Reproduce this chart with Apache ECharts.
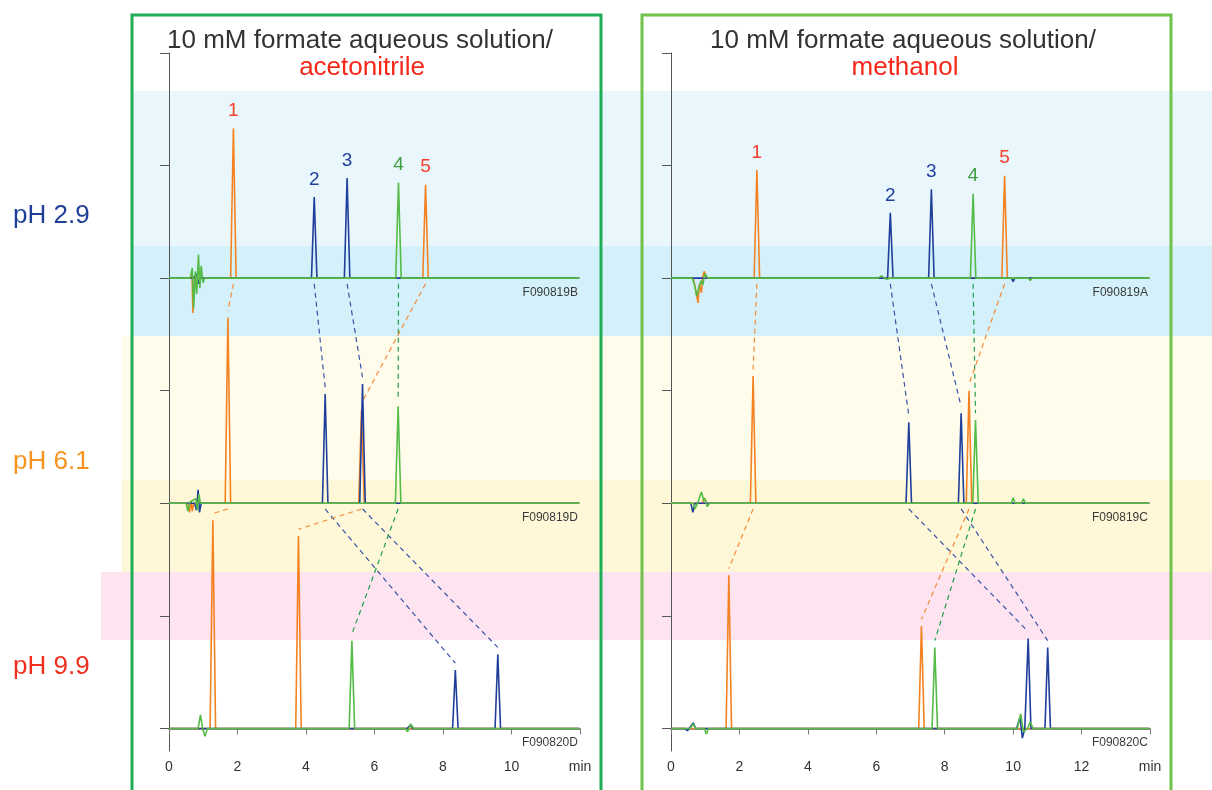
<!DOCTYPE html>
<html>
<head>
<meta charset="utf-8">
<title>Retention vs pH</title>
<script src="https://cdn.jsdelivr.net/npm/echarts@6/dist/echarts.min.js"></script>
<style>
  html, body { margin: 0; padding: 0; background: #fff; }
  #chart { width: 1212px; height: 790px; }
</style>
</head>
<body>
<div id="chart"></div>
<script>
// ---- data ----
const phLabels = ['pH 2.9', 'pH 6.1', 'pH 9.9'];
const baselines = [4, 2, 0];                 // vertical offset of each chromatogram
const compounds = ['1', '2', '3', '4', '5'];
const compoundTrace = ['orange', 'blue', 'blue', 'green', 'orange'];

const acnTitle = 'acetonitrile';
const acnMax = 12;
const acnCodes = ['F090819B', 'F090819D', 'F090820D'];
// retention time (min), rows = pH 2.9 / 6.1 / 9.9, cols = compound 1..5
const acnTimes = [
  [1.88, 4.24, 5.20, 6.70, 7.49],
  [1.72, 4.56, 5.65, 6.69, 5.62],
  [1.28, 8.36, 9.60, 5.34, 3.78]
];
const acnHeights = [
  [1.33, 0.72, 0.89, 0.85, 0.83],
  [1.65, 0.97, 1.06, 0.86, 0.83],
  [1.85, 0.52, 0.66, 0.78, 1.71]
];
const acnNoise = [
  { orange: [[0.64, 0], [0.67, 0.06], [0.70, -0.31], [0.74, 0.02], [0.78, 0]],
    blue: [[0.72, 0], [0.80, 0.04], [0.85, -0.05], [0.90, 0]],
    green: [[0.62, 0], [0.68, 0.09], [0.72, -0.27], [0.77, 0.06], [0.81, -0.14], [0.86, 0.21], [0.90, -0.09], [0.94, 0.11], [0.99, -0.04], [1.04, 0]] },
  { orange: [[0.55, 0], [0.60, -0.08], [0.64, 0.02], [0.68, -0.07], [0.72, 0]],
    blue: [[0.75, 0], [0.80, -0.06], [0.85, 0.12], [0.89, -0.08], [0.94, 0]],
    green: [[0.50, 0], [0.55, -0.07], [0.60, 0.01], [0.78, 0.04], [0.83, -0.06], [0.87, 0.08], [0.92, 0]] },
  { orange: [],
    blue: [[6.95, 0], [7.05, 0.03], [7.12, 0]],
    green: [[0.85, 0], [0.92, 0.12], [0.98, 0], [1.05, -0.07], [1.12, 0], [6.90, 0], [6.97, -0.03], [7.05, 0.04], [7.15, 0]] }
];

const meohTitle = 'methanol';
const meohMax = 14;
const meohCodes = ['F090819A', 'F090819C', 'F090820C'];
const meohTimes = [
  [2.51, 6.41, 7.61, 8.83, 9.75],
  [2.40, 6.95, 8.48, 8.90, 8.71],
  [1.69, 10.44, 11.01, 7.71, 7.32]
];
const meohHeights = [
  [0.96, 0.58, 0.79, 0.75, 0.91],
  [1.13, 0.72, 0.80, 0.74, 1.00],
  [1.36, 0.80, 0.72, 0.72, 0.91]
];
const meohNoise = [
  { orange: [[0.65, 0], [0.72, -0.10], [0.79, -0.22], [0.83, -0.05], [0.89, -0.13], [0.93, 0.02], [0.97, 0.06], [1.05, 0]],
    blue: [[9.95, 0], [10.0, -0.03], [10.05, 0]],
    green: [[0.62, 0], [0.68, -0.05], [0.75, -0.16], [0.82, -0.08], [0.88, -0.02], [0.93, -0.06], [0.99, 0.04], [1.08, 0], [6.05, 0], [6.15, 0.02], [6.3, -0.01], [6.4, 0], [10.45, 0], [10.5, -0.02], [10.55, 0]] },
  { orange: [[0.92, 0], [0.97, 0.05], [1.03, 0]],
    blue: [[0.58, 0], [0.64, -0.08], [0.70, 0]],
    green: [[0.66, 0], [0.70, -0.05], [0.80, 0.02], [0.89, 0.10], [0.96, 0.02], [1.0, 0.04], [1.06, -0.03], [1.12, 0], [9.95, 0], [10.0, 0.05], [10.06, 0], [10.25, 0], [10.3, 0.04], [10.36, 0]] },
  { orange: [],
    blue: [[0.40, 0], [0.48, -0.02], [0.65, 0.05], [0.72, 0], [10.10, 0], [10.20, 0.10], [10.27, -0.085], [10.34, 0]],
    green: [[0.55, 0], [0.65, 0.04], [0.72, 0], [0.98, 0], [1.03, -0.05], [1.10, 0], [10.12, 0], [10.22, 0.13], [10.30, -0.03], [10.42, 0], [10.50, 0.06], [10.58, 0]] }
];

// ---- styling ----
const traceColor = { orange: '#f58220', blue: '#1f3f9a', green: '#55bb47' };
const dashColor = { orange: '#f58a35', blue: '#3552a8', green: '#1f9e4c' };
const labelColor = ['#f4402a', '#1f3f9a', '#1f3f9a', '#3d9a3d', '#f4402a'];
const phColor = ['#1f3f99', '#f7931e', '#f0301e'];
const peakHalfWidth = 0.08;

const panels = [
  { title: acnTitle, max: acnMax, codes: acnCodes, times: acnTimes, heights: acnHeights, noise: acnNoise,
    grid: { left: 169, top: 53, width: 411, height: 698 }, box: [132, 15, 469], boxColor: '#1fae55', cx: 360 },
  { title: meohTitle, max: meohMax, codes: meohCodes, times: meohTimes, heights: meohHeights, noise: meohNoise,
    grid: { left: 671, top: 53, width: 479, height: 698 }, box: [642, 15, 529], boxColor: '#70c24a', cx: 903 }
];

function traceData(p, row, color) {
  const pts = [[0, 0], [p.max - 0.02, 0]];
  p.noise[row][color].forEach(pt => pts.push(pt));
  compounds.forEach((c, i) => {
    if (compoundTrace[i] !== color) return;
    const t = p.times[row][i], h = p.heights[row][i];
    pts.push([t - peakHalfWidth, 0], [t, h], [t + peakHalfWidth, 0]);
  });
  pts.sort((a, b) => a[0] - b[0]);
  return pts.map(pt => [pt[0], pt[1] + baselines[row]]);
}

const grids = [], xAxes = [], yAxes = [], series = [], graphics = [];

// background bands
[
  [131, 91, 1081, 155, '#e9f7fd'],
  [131, 246, 1081, 90, '#d4f1fb'],
  [122, 336, 1090, 144, '#fffcec'],
  [122, 480, 1090, 92, '#fff8d8'],
  [101, 572, 1111, 68, '#fde4f0']
].forEach(b => graphics.push({
  type: 'rect', z: -10, silent: true,
  shape: { x: b[0], y: b[1], width: b[2], height: b[3] },
  style: { fill: b[4] }
}));

panels.forEach((p, pi) => {
  grids.push(p.grid);
  xAxes.push({
    gridIndex: pi, type: 'value', min: 0, max: p.max, interval: 2,
    axisLine: { lineStyle: { color: '#777', width: 1.5 } },
    axisTick: { length: 6, lineStyle: { color: '#777' } },
    axisLabel: { color: '#333', fontSize: 14, margin: 9, fontFamily: 'Liberation Sans',
      formatter: v => v === p.max ? 'min' : String(v) },
    splitLine: { show: false }
  });
  yAxes.push({
    gridIndex: pi, type: 'value', min: -0.2, max: 6,
    axisLine: { show: true, lineStyle: { color: '#555', width: 1 } },
    axisTick: { show: true, length: 9, customValues: [0, 1, 2, 3, 4, 5, 6], lineStyle: { color: '#555' } },
    axisLabel: { show: false },
    splitLine: { show: false }
  });

  // dashed connectors between the same compound in neighbouring pH runs
  compounds.forEach((c, i) => {
    for (let r = 0; r < 2; r++) {
      series.push({
        type: 'line', xAxisIndex: pi, yAxisIndex: pi, silent: true, symbol: 'none', z: 2,
        lineStyle: { color: dashColor[compoundTrace[i]], width: 1.2, type: [5, 4] },
        data: [
          [p.times[r][i], baselines[r] - 0.05],
          [p.times[r + 1][i], baselines[r + 1] + p.heights[r + 1][i] + 0.06]
        ]
      });
    }
  });

  // chromatogram traces
  for (let r = 0; r < 3; r++) {
    ['orange', 'blue', 'green'].forEach(color => {
      series.push({
        type: 'line', xAxisIndex: pi, yAxisIndex: pi, silent: true, symbol: 'none', z: 3,
        lineStyle: { color: traceColor[color], width: 1.6 },
        data: traceData(p, r, color)
      });
    });
  }

  // peak numbers above the pH 2.9 run
  series.push({
    type: 'scatter', xAxisIndex: pi, yAxisIndex: pi, silent: true, symbolSize: 0, z: 5,
    itemStyle: { opacity: 1 },
    data: compounds.map((c, i) => ({
      value: [p.times[0][i], baselines[0] + p.heights[0][i]],
      name: c,
      label: { color: labelColor[i] }
    })),
    label: { show: true, position: 'top', distance: 8, fontSize: 19, fontFamily: 'Liberation Sans',
      formatter: d => d.name }
  });

  // run codes
  series.push({
    type: 'scatter', xAxisIndex: pi, yAxisIndex: pi, silent: true, symbolSize: 0, z: 5,
    itemStyle: { opacity: 1 },
    data: p.codes.map((code, r) => ({ value: [p.max - 0.06, baselines[r] - 0.13], name: code })),
    label: { show: true, position: 'left', distance: 0, fontSize: 12, color: '#3a3a3a',
      fontFamily: 'Liberation Sans', formatter: d => d.name }
  });

  // panel frame and title
  graphics.push({
    type: 'rect', z: 20, silent: true,
    shape: { x: p.box[0], y: p.box[1], width: p.box[2], height: 800 },
    style: { fill: 'none', stroke: p.boxColor, lineWidth: 3 }
  });
  graphics.push({
    type: 'text', z: 20, silent: true, x: p.cx, y: 41,
    style: { text: '10 mM formate aqueous solution/', fill: '#333', fontSize: 26,
      fontFamily: 'Liberation Sans', align: 'center', verticalAlign: 'middle' }
  });
  graphics.push({
    type: 'text', z: 20, silent: true, x: p.cx + 2, y: 68,
    style: { text: p.title, fill: '#f5281a', fontSize: 26,
      fontFamily: 'Liberation Sans', align: 'center', verticalAlign: 'middle' }
  });
});

// pH labels on the left
[216, 462, 667].forEach((y, r) => graphics.push({
  type: 'text', z: 20, silent: true, x: 13, y: y,
  style: { text: phLabels[r], fill: phColor[r], fontSize: 26,
    fontFamily: 'Liberation Sans', align: 'left', verticalAlign: 'middle' }
}));

const chart = echarts.init(document.getElementById('chart'));
chart.setOption({
  animation: false,
  backgroundColor: '#fff',
  grid: grids,
  xAxis: xAxes,
  yAxis: yAxes,
  series: series,
  graphic: graphics
});
</script>
</body>
</html>
